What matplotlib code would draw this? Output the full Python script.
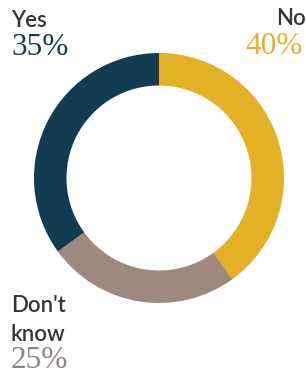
import matplotlib
matplotlib.use("Agg")
import matplotlib.pyplot as plt

categories = ["No", "Don't know", "Yes"]
values = [40, 25, 35]
colors = ["#e3b026", "#9d897d", "#123c52"]

W, H = 306, 376
fig = plt.figure(figsize=(W / 100, H / 100), dpi=100)
fig.patch.set_facecolor("white")

cx, cy, r = 159, 178, 125
ax = fig.add_axes([(cx - r) / W, (H - cy - r) / H, 2 * r / W, 2 * r / H])
ax.pie(values, colors=colors, startangle=90, counterclock=False,
       radius=1.0, wedgeprops=dict(width=0.26, linewidth=0))
ax.set_xlim(-1, 1)
ax.set_ylim(-1, 1)
ax.set_aspect("equal")
ax.axis("off")

label_font = dict(family=["Lato", "DejaVu Sans"], color="#353535", fontsize=16, weight="semibold")
pct_font = dict(family=["Liberation Serif", "DejaVu Serif"], fontsize=22.5)

def T(x, y, s, **kw):
    fig.text(x / W, 1 - y / H, s, va="baseline", **kw)

T(11, 27, "Yes", ha="left", **label_font)
T(11, 55, f"{values[2]}%", ha="left", color=colors[2], **pct_font)
T(306, 25, "No", ha="right", **label_font)
T(245, 54, f"{values[0]}%", ha="left", color=colors[0], **pct_font)
T(11, 312, "Don't", ha="left", **label_font)
T(11, 341, "know", ha="left", **label_font)
T(11, 368, f"{values[1]}%", ha="left", color="#8c8480", **pct_font)

fig.savefig("out.png", dpi=100, facecolor="white")
